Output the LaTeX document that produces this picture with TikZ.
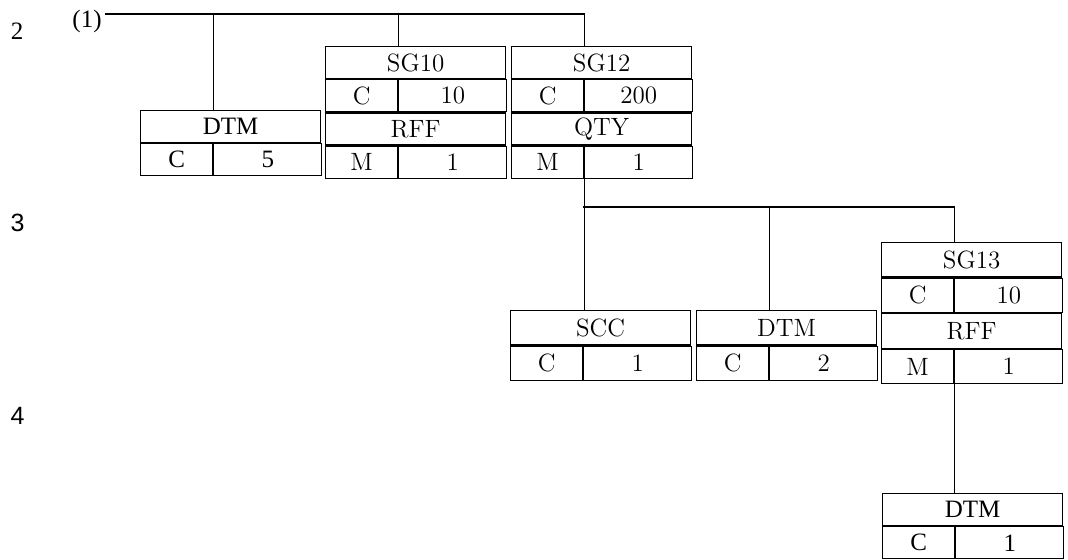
\documentclass[tikz,border=0pt]{standalone}
\usepackage{fontspec}
\newfontfamily\tnrfam{Liberation Serif}
\newfontfamily\arialfam{Liberation Sans}
\def\rowht{16pt}
\tikzset{cell/.style={draw, line width=0.6pt, inner sep=0pt, minimum height=\rowht},
    titlecell/.style={cell, minimum width=90pt},
    flagcell/.style={cell, minimum width=36pt},
    numcell/.style={cell, minimum width=54pt},
    link/.style={line width=0.6pt},
    level/.style={anchor=base, font=\arialfam\fontsize{12.5}{15}\selectfont}}
% one segment: name, top left, tag, status, repeat
\newcommand{\seg}[5]{%
    \node[titlecell, anchor=north west] (#1) at (#2) {#3};
    \node[flagcell, anchor=north west] (#1st) at (#1.south west) {#4};
    \node[numcell, anchor=north west] (#1n) at (#1st.north east) {#5};}

\begin{document}
\begin{tikzpicture}[x=0.5pt, y=-0.5pt, font=\fontsize{12.5}{15}\selectfont]
    \useasboundingbox (0,0) rectangle (1068,560);
    % level numbers
    \node[level, font=\tnrfam\fontsize{12.5}{15}\selectfont] (lvA) at (17,40) {2};
    \node[level] (lvB) at (17.5,232) {3};
    \node[level] (lvC) at (17.5,424) {4};
    \node[anchor=base, font=\tnrfam\fontsize{12.5}{15}\selectfont] (one) at (87,28) {(1)};
    % level 2
    \begin{scope}[font=\tnrfam\fontsize{12.5}{15}\selectfont]
        \seg{dtmA}{140,110}{DTM}{C}{5}
    \end{scope}
    \seg{sg10}{325,46}{SG10}{C}{10}
    \seg{rffA}{sg10st.south west}{RFF}{M}{1}
    \seg{sg12}{511,46}{SG12}{C}{200}
    \seg{qty}{sg12st.south west}{QTY}{M}{1}
    % level 3
    \begin{scope}
        \def\rowht{17.2pt}
        \seg{scc}{510,310}{SCC}{C}{1}
        \seg{dtmB}{696,310}{DTM}{C}{2}
        \seg{sg13}{881,242}{SG13}{C}{10}
        \seg{rffB}{sg13st.south west}{RFF}{M}{1}
    \end{scope}
    % level 4
    \begin{scope}[font=\tnrfam\fontsize{12.5}{15}\selectfont]
        \seg{dtmC}{882,493}{DTM}{C}{1}
    \end{scope}
    % links
    \coordinate (busA) at (105,14);
    \coordinate (busB) at (583,207);
    \draw[link] (busA) -| (sg12.north -| sg12st.east);
    \draw[link] (busA -| sg10st.east) -- (sg10.north -| sg10st.east);
    \draw[link] (busA -| dtmAst.east) -- (dtmA.north -| dtmAst.east);
    \draw[link] (qtyst.south east) -- (qtyst.south east |- scc.north);
    \draw[link] (busB) -| (sg13.north -| sg13st.east);
    \draw[link] (busB -| dtmBst.east) -- (dtmB.north -| dtmBst.east);
    \draw[link] (rffBst.south east) -- (rffBst.south east |- dtmC.north);
\end{tikzpicture}
\end{document}
